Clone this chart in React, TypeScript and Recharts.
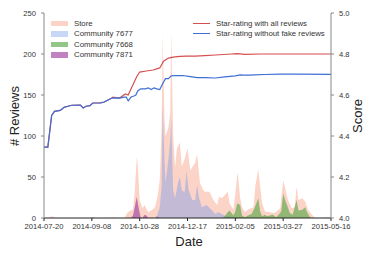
import { ComposedChart, Area, Line, XAxis, YAxis } from "recharts";

// day offsets from 2014-07-20, review counts
const STORE: [number, number][] = [
  [0, 0], [5, 0], [8, 2], [12, 0], [49, 0], [51, 1.5], [54, 0], [69, 0], [72, 1], [75, 0],
  [84, 0], [87, 6], [90, 9], [93, 10], [95, 34], [97, 75], [98, 65], [100, 22], [103, 12],
  [105, 16], [109, 7], [113, 10], [116, 13], [119, 28], [121, 47], [123, 110], [124, 224],
  [126, 120], [127, 100], [130, 110], [132, 130], [133, 228], [135, 100], [137, 62], [139, 85],
  [142, 92], [144, 63], [147, 72], [150, 85], [153, 58], [155, 62], [158, 67], [160, 78],
  [162, 55], [163, 43], [166, 35], [168, 32], [173, 32], [177, 22], [181, 16], [183, 26],
  [186, 24], [189, 28], [192, 32], [194, 18], [198, 10], [201, 40], [202, 55], [203, 50],
  [205, 25], [207, 13], [210, 7], [213, 10], [219, 13], [221, 40], [224, 59], [226, 38],
  [228, 18], [231, 8], [236, 7], [241, 6], [247, 12], [250, 46], [252, 37], [255, 22],
  [259, 12], [262, 13], [264, 38], [266, 22], [270, 24], [273, 20], [276, 10], [280, 4],
  [283, 1], [288, 0], [295, 1], [300, 0],
];

const COMMUNITY_7677: [number, number][] = [
  [116, 0], [118, 2], [121, 13], [123, 40], [124, 138], [126, 70], [127, 43], [130, 71],
  [132, 95], [133, 122], [135, 34], [137, 24], [140, 43], [142, 50], [144, 34], [147, 31],
  [149, 58], [151, 35], [155, 22], [158, 22], [160, 40], [162, 25], [165, 13], [170, 16],
  [175, 10], [179, 5], [182, 7], [186, 5], [189, 3], [192, 2], [200, 1], [210, 0],
];

const COMMUNITY_7668: [number, number][] = [
  [186, 0], [189, 2], [192, 7], [194, 9], [198, 3], [200, 8], [202, 18], [205, 16], [207, 3],
  [210, 1], [213, 3], [217, 5], [220, 12], [224, 24], [226, 8], [228, 2], [231, 4], [233, 2],
  [239, 4], [243, 1], [248, 8], [250, 30], [252, 22], [254, 16], [257, 6], [260, 4], [264, 22],
  [266, 9], [270, 10], [273, 13], [275, 7], [278, 1], [280, 0],
];

const COMMUNITY_7871: [number, number][] = [
  [91, 0], [93, 3], [95, 14], [97, 26], [99, 12], [101, 1], [103, 0], [105, 4], [107, 3],
  [109, 0], [117, 0], [118, 2], [120, 0],
];

// star rating (score axis)
const RATING_ALL: [number, number][] = [
  [0, 4.346], [4, 4.346], [8, 4.5], [11, 4.52], [17, 4.525], [21, 4.54], [25, 4.545],
  [29, 4.55], [38, 4.551], [41, 4.537], [44, 4.545], [48, 4.548], [51, 4.561], [59, 4.562],
  [63, 4.566], [67, 4.576], [71, 4.585], [72, 4.59], [79, 4.585], [85, 4.605], [88, 4.6],
  [92, 4.64], [97, 4.69], [100, 4.712], [107, 4.717], [114, 4.722], [121, 4.732],
  [125, 4.765], [130, 4.78], [135, 4.785], [142, 4.788], [149, 4.79], [158, 4.79],
  [168, 4.792], [179, 4.795], [196, 4.8], [202, 4.802], [210, 4.798], [226, 4.8], [300, 4.8],
];

const RATING_NO_FAKE: [number, number][] = [
  [0, 4.346], [4, 4.346], [8, 4.5], [11, 4.52], [17, 4.525], [21, 4.54], [25, 4.545],
  [29, 4.55], [38, 4.551], [41, 4.537], [44, 4.545], [48, 4.548], [51, 4.561], [59, 4.562],
  [63, 4.566], [67, 4.576], [71, 4.585], [75, 4.586], [79, 4.585], [84, 4.59], [86, 4.59],
  [88, 4.571], [91, 4.59], [94, 4.595], [96, 4.6], [98, 4.62], [101, 4.63], [106, 4.63],
  [109, 4.635], [112, 4.627], [115, 4.635], [118, 4.63], [121, 4.627], [124, 4.655],
  [127, 4.68], [130, 4.68], [133, 4.693], [137, 4.695], [145, 4.695], [153, 4.69],
  [160, 4.685], [168, 4.685], [179, 4.683], [189, 4.688], [200, 4.693], [205, 4.698],
  [208, 4.697], [215, 4.697], [220, 4.698], [231, 4.7], [247, 4.702], [268, 4.702], [300, 4.701],
];

const X_TICKS = [0, 50, 100, 150, 200, 250, 300];
const LEFT_TICKS = [0, 50, 100, 150, 200, 250];
const RIGHT_TICKS = [4.0, 4.2, 4.4, 4.6, 4.8, 5.0];

const DAY0 = Date.UTC(2014, 6, 20);
const fmtDate = (d: number) => new Date(DAY0 + d * 86400000).toISOString().slice(0, 10);

const toRows = (pts: [number, number][]) => pts.map(([d, v]) => ({ d, v }));

const FONT = "'Liberation Sans', Arial, sans-serif";
const tick = { fontSize: 7.6, fill: "#333", fontFamily: FONT };

const AREA_LEGEND = [
  { name: "Store", color: "#fcd3c6" },
  { name: "Community 7677", color: "#c7d7f8" },
  { name: "Community 7668", color: "#93c788" },
  { name: "Community 7871", color: "#c182c1" },
];
const LINE_LEGEND = [
  { name: "Star-rating with all reviews", color: "#d64f4f" },
  { name: "Star-rating without fake reviews", color: "#3e6fd6" },
];

export default function App() {
  return (
    <div style={{ position: "absolute", left: 0, top: 0, width: 374, height: 257, background: "#fff", fontFamily: FONT }}>
      <ComposedChart width={374} height={257} margin={{ top: 13, right: 0, left: 0, bottom: 0 }}>
        <XAxis
          xAxisId="b"
          dataKey="d"
          type="number"
          domain={[0, 300]}
          ticks={X_TICKS}
          tickFormatter={fmtDate}
          allowDuplicatedCategory={false}
          height={39}
          tickSize={3}
          tickMargin={3}
          tick={tick}
          stroke="#222"
          interval={0}
        />
        <XAxis
          xAxisId="t"
          orientation="top"
          dataKey="d"
          type="number"
          domain={[0, 300]}
          ticks={X_TICKS}
          allowDuplicatedCategory={false}
          height={0}
          tickSize={3}
          tick={false}
          stroke="#999"
        />
        <YAxis
          yAxisId="left"
          domain={[0, 250]}
          ticks={LEFT_TICKS}
          width={44}
          tickSize={3}
          tickMargin={5}
          tick={tick}
          stroke="#888"
          interval={0}
        />
        <YAxis
          yAxisId="right"
          orientation="right"
          domain={[4, 5]}
          ticks={RIGHT_TICKS}
          tickFormatter={(v: number) => v.toFixed(1)}
          width={43}
          tickSize={3}
          tickMargin={5}
          tick={tick}
          stroke="#888"
          interval={0}
        />
        <Area xAxisId="b" yAxisId="left" data={toRows(STORE)} dataKey="v" type="linear" stroke="none" fill="#f7a58a" fillOpacity={0.48} isAnimationActive={false} />
        <Area xAxisId="b" yAxisId="left" data={toRows(COMMUNITY_7677)} dataKey="v" type="linear" stroke="none" fill="#6a93f0" fillOpacity={0.38} isAnimationActive={false} />
        <Area xAxisId="b" yAxisId="left" data={toRows(COMMUNITY_7668)} dataKey="v" type="linear" stroke="none" fill="#5aa84a" fillOpacity={0.65} isAnimationActive={false} />
        <Area xAxisId="b" yAxisId="left" data={toRows(COMMUNITY_7871)} dataKey="v" type="linear" stroke="none" fill="#a0409f" fillOpacity={0.65} isAnimationActive={false} />
        <Line xAxisId="b" yAxisId="right" data={toRows(RATING_ALL)} dataKey="v" type="linear" stroke="#d64f4f" strokeWidth={1.2} dot={false} isAnimationActive={false} />
        <Line xAxisId="b" yAxisId="right" data={toRows(RATING_NO_FAKE)} dataKey="v" type="linear" stroke="#3e6fd6" strokeWidth={1.2} dot={false} isAnimationActive={false} />
      </ComposedChart>

      {/* area legend */}
      <div style={{ position: "absolute", left: 51, top: 18 }}>
        {AREA_LEGEND.map((e) => (
          <div key={e.name} style={{ display: "flex", alignItems: "center", height: 10.5 }}>
            <div style={{ width: 17, height: 5.5, background: e.color }} />
            <span style={{ marginLeft: 6, fontSize: 7.8, color: "#333", whiteSpace: "nowrap" }}>{e.name}</span>
          </div>
        ))}
      </div>
      {/* line legend */}
      <div style={{ position: "absolute", left: 193, top: 18 }}>
        {LINE_LEGEND.map((e) => (
          <div key={e.name} style={{ display: "flex", alignItems: "center", height: 10.5 }}>
            <div style={{ width: 17, height: 1.2, background: e.color }} />
            <span style={{ marginLeft: 6, fontSize: 7.8, color: "#333", whiteSpace: "nowrap" }}>{e.name}</span>
          </div>
        ))}
      </div>

      <div style={{ position: "absolute", left: 0, top: 234, width: 374, textAlign: "center", paddingLeft: 2, fontSize: 13, color: "#222" }}>
        Date
      </div>
      <div style={{ position: "absolute", left: 14, top: 116, transform: "translate(-50%, -50%) rotate(-90deg)", fontSize: 13, color: "#222", whiteSpace: "nowrap" }}>
        # Reviews
      </div>
      <div style={{ position: "absolute", left: 357, top: 116, transform: "translate(-50%, -50%) rotate(-90deg)", fontSize: 13, color: "#222", whiteSpace: "nowrap" }}>
        Score
      </div>
    </div>
  );
}
